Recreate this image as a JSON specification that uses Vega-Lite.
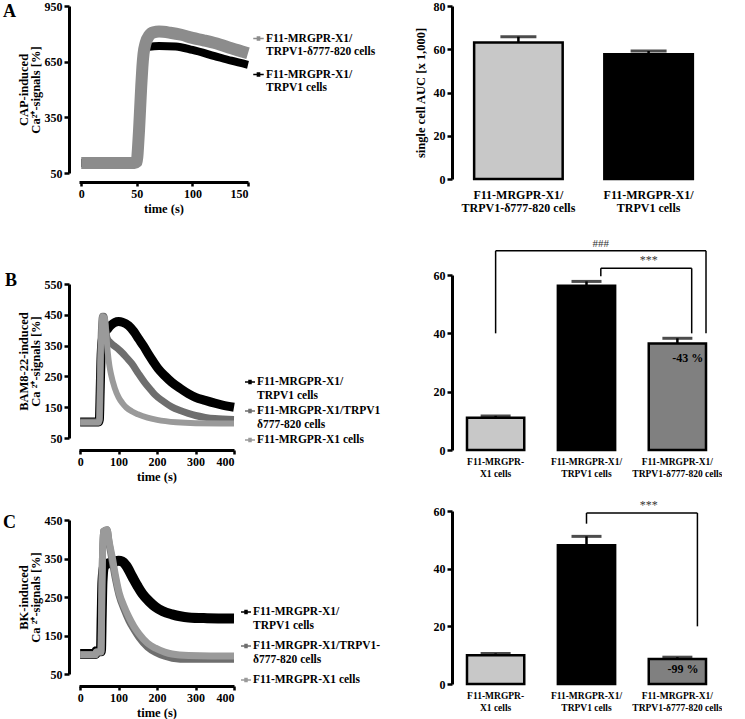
{
  "$schema": "https://vega.github.io/schema/vega-lite/v6.json",
  "padding": {"left": 3, "top": 0, "right": 0, "bottom": 0},
  "background": "white",
  "config": {
    "font": "Liberation Serif",
    "view": {"stroke": null},
    "axis": {"labelFont": "Liberation Serif", "labelFontWeight": "bold", "labelFontSize": 12, "labelColor": "#000", "titleFont": "Liberation Serif", "titleFontWeight": "bold", "titleFontSize": 12.5, "titleColor": "#000", "titleLineHeight": 12, "domainColor": "#000", "domainWidth": 3, "tickColor": "#000", "tickWidth": 2.5, "tickSize": 5, "grid": false, "labelPadding": 2},
    "legend": {"labelFont": "Liberation Serif", "labelFontWeight": "bold", "labelFontSize": 11.5, "labelColor": "#000", "symbolStrokeWidth": 1.5},
    "line": {"interpolate": "monotone", "strokeCap": "butt", "strokeJoin": "round"},
    "title": {"font": "Liberation Serif", "fontWeight": "bold", "fontSize": 18, "color": "#000"}
  },
  "datasets": {
    "tsA": [
      {"s": "F11-MRGPR-X1/|TRPV1 cells", "t": 0, "v": 104}, {"s": "F11-MRGPR-X1/|TRPV1 cells", "t": 48, "v": 104}, {"s": "F11-MRGPR-X1/|TRPV1 cells", "t": 50, "v": 110}, {"s": "F11-MRGPR-X1/|TRPV1 cells", "t": 52, "v": 280}, {"s": "F11-MRGPR-X1/|TRPV1 cells", "t": 54, "v": 500}, {"s": "F11-MRGPR-X1/|TRPV1 cells", "t": 56, "v": 660}, {"s": "F11-MRGPR-X1/|TRPV1 cells", "t": 58, "v": 718}, {"s": "F11-MRGPR-X1/|TRPV1 cells", "t": 61, "v": 730}, {"s": "F11-MRGPR-X1/|TRPV1 cells", "t": 70, "v": 735}, {"s": "F11-MRGPR-X1/|TRPV1 cells", "t": 85, "v": 732}, {"s": "F11-MRGPR-X1/|TRPV1 cells", "t": 100, "v": 713}, {"s": "F11-MRGPR-X1/|TRPV1 cells", "t": 120, "v": 680}, {"s": "F11-MRGPR-X1/|TRPV1 cells", "t": 135, "v": 655}, {"s": "F11-MRGPR-X1/|TRPV1 cells", "t": 150, "v": 633},
      {"s": "F11-MRGPR-X1/|TRPV1-δ777-820 cells", "t": 0, "v": 104}, {"s": "F11-MRGPR-X1/|TRPV1-δ777-820 cells", "t": 48, "v": 104}, {"s": "F11-MRGPR-X1/|TRPV1-δ777-820 cells", "t": 50, "v": 110}, {"s": "F11-MRGPR-X1/|TRPV1-δ777-820 cells", "t": 51, "v": 180}, {"s": "F11-MRGPR-X1/|TRPV1-δ777-820 cells", "t": 52, "v": 280}, {"s": "F11-MRGPR-X1/|TRPV1-δ777-820 cells", "t": 53, "v": 400}, {"s": "F11-MRGPR-X1/|TRPV1-δ777-820 cells", "t": 54, "v": 520}, {"s": "F11-MRGPR-X1/|TRPV1-δ777-820 cells", "t": 55, "v": 620}, {"s": "F11-MRGPR-X1/|TRPV1-δ777-820 cells", "t": 56, "v": 690}, {"s": "F11-MRGPR-X1/|TRPV1-δ777-820 cells", "t": 58, "v": 752}, {"s": "F11-MRGPR-X1/|TRPV1-δ777-820 cells", "t": 61, "v": 790}, {"s": "F11-MRGPR-X1/|TRPV1-δ777-820 cells", "t": 65, "v": 808}, {"s": "F11-MRGPR-X1/|TRPV1-δ777-820 cells", "t": 70, "v": 812}, {"s": "F11-MRGPR-X1/|TRPV1-δ777-820 cells", "t": 80, "v": 806}, {"s": "F11-MRGPR-X1/|TRPV1-δ777-820 cells", "t": 90, "v": 795}, {"s": "F11-MRGPR-X1/|TRPV1-δ777-820 cells", "t": 100, "v": 778}, {"s": "F11-MRGPR-X1/|TRPV1-δ777-820 cells", "t": 110, "v": 765}, {"s": "F11-MRGPR-X1/|TRPV1-δ777-820 cells", "t": 121, "v": 749}, {"s": "F11-MRGPR-X1/|TRPV1-δ777-820 cells", "t": 135, "v": 722}, {"s": "F11-MRGPR-X1/|TRPV1-δ777-820 cells", "t": 150, "v": 695}
    ],
    "tsB": [
      {"s": "F11-MRGPR-X1/|TRPV1 cells", "t": 0, "v": 102}, {"s": "F11-MRGPR-X1/|TRPV1 cells", "t": 48, "v": 102}, {"s": "F11-MRGPR-X1/|TRPV1 cells", "t": 50, "v": 110}, {"s": "F11-MRGPR-X1/|TRPV1 cells", "t": 52, "v": 200}, {"s": "F11-MRGPR-X1/|TRPV1 cells", "t": 54, "v": 300}, {"s": "F11-MRGPR-X1/|TRPV1 cells", "t": 57, "v": 365}, {"s": "F11-MRGPR-X1/|TRPV1 cells", "t": 62, "v": 390}, {"s": "F11-MRGPR-X1/|TRPV1 cells", "t": 70, "v": 402}, {"s": "F11-MRGPR-X1/|TRPV1 cells", "t": 80, "v": 416}, {"s": "F11-MRGPR-X1/|TRPV1 cells", "t": 90, "v": 425}, {"s": "F11-MRGPR-X1/|TRPV1 cells", "t": 100, "v": 428}, {"s": "F11-MRGPR-X1/|TRPV1 cells", "t": 110, "v": 426}, {"s": "F11-MRGPR-X1/|TRPV1 cells", "t": 126, "v": 415}, {"s": "F11-MRGPR-X1/|TRPV1 cells", "t": 140, "v": 395}, {"s": "F11-MRGPR-X1/|TRPV1 cells", "t": 152, "v": 372}, {"s": "F11-MRGPR-X1/|TRPV1 cells", "t": 165, "v": 348}, {"s": "F11-MRGPR-X1/|TRPV1 cells", "t": 177, "v": 323}, {"s": "F11-MRGPR-X1/|TRPV1 cells", "t": 190, "v": 298}, {"s": "F11-MRGPR-X1/|TRPV1 cells", "t": 203, "v": 275}, {"s": "F11-MRGPR-X1/|TRPV1 cells", "t": 220, "v": 252}, {"s": "F11-MRGPR-X1/|TRPV1 cells", "t": 238, "v": 231}, {"s": "F11-MRGPR-X1/|TRPV1 cells", "t": 260, "v": 211}, {"s": "F11-MRGPR-X1/|TRPV1 cells", "t": 281, "v": 194}, {"s": "F11-MRGPR-X1/|TRPV1 cells", "t": 300, "v": 182}, {"s": "F11-MRGPR-X1/|TRPV1 cells", "t": 325, "v": 172}, {"s": "F11-MRGPR-X1/|TRPV1 cells", "t": 350, "v": 163}, {"s": "F11-MRGPR-X1/|TRPV1 cells", "t": 370, "v": 157}, {"s": "F11-MRGPR-X1/|TRPV1 cells", "t": 400, "v": 150},
      {"s": "F11-MRGPR-X1/TRPV1|δ777-820 cells", "t": 0, "v": 102}, {"s": "F11-MRGPR-X1/TRPV1|δ777-820 cells", "t": 48, "v": 102}, {"s": "F11-MRGPR-X1/TRPV1|δ777-820 cells", "t": 50, "v": 110}, {"s": "F11-MRGPR-X1/TRPV1|δ777-820 cells", "t": 53, "v": 300}, {"s": "F11-MRGPR-X1/TRPV1|δ777-820 cells", "t": 56, "v": 420}, {"s": "F11-MRGPR-X1/TRPV1|δ777-820 cells", "t": 58, "v": 445}, {"s": "F11-MRGPR-X1/TRPV1|δ777-820 cells", "t": 62, "v": 445}, {"s": "F11-MRGPR-X1/TRPV1|δ777-820 cells", "t": 66, "v": 405}, {"s": "F11-MRGPR-X1/TRPV1|δ777-820 cells", "t": 70, "v": 375}, {"s": "F11-MRGPR-X1/TRPV1|δ777-820 cells", "t": 80, "v": 358}, {"s": "F11-MRGPR-X1/TRPV1|δ777-820 cells", "t": 90, "v": 348}, {"s": "F11-MRGPR-X1/TRPV1|δ777-820 cells", "t": 100, "v": 338}, {"s": "F11-MRGPR-X1/TRPV1|δ777-820 cells", "t": 110, "v": 326}, {"s": "F11-MRGPR-X1/TRPV1|δ777-820 cells", "t": 120, "v": 312}, {"s": "F11-MRGPR-X1/TRPV1|δ777-820 cells", "t": 134, "v": 292}, {"s": "F11-MRGPR-X1/TRPV1|δ777-820 cells", "t": 150, "v": 262}, {"s": "F11-MRGPR-X1/TRPV1|δ777-820 cells", "t": 169, "v": 228}, {"s": "F11-MRGPR-X1/TRPV1|δ777-820 cells", "t": 185, "v": 204}, {"s": "F11-MRGPR-X1/TRPV1|δ777-820 cells", "t": 195, "v": 190}, {"s": "F11-MRGPR-X1/TRPV1|δ777-820 cells", "t": 215, "v": 170}, {"s": "F11-MRGPR-X1/TRPV1|δ777-820 cells", "t": 238, "v": 151}, {"s": "F11-MRGPR-X1/TRPV1|δ777-820 cells", "t": 260, "v": 139}, {"s": "F11-MRGPR-X1/TRPV1|δ777-820 cells", "t": 281, "v": 130}, {"s": "F11-MRGPR-X1/TRPV1|δ777-820 cells", "t": 300, "v": 123}, {"s": "F11-MRGPR-X1/TRPV1|δ777-820 cells", "t": 325, "v": 117}, {"s": "F11-MRGPR-X1/TRPV1|δ777-820 cells", "t": 350, "v": 113}, {"s": "F11-MRGPR-X1/TRPV1|δ777-820 cells", "t": 400, "v": 110},
      {"s": "F11-MRGPR-X1 cells", "t": 0, "v": 100}, {"s": "F11-MRGPR-X1 cells", "t": 48, "v": 100}, {"s": "F11-MRGPR-X1 cells", "t": 50, "v": 110}, {"s": "F11-MRGPR-X1 cells", "t": 53, "v": 300}, {"s": "F11-MRGPR-X1 cells", "t": 56, "v": 420}, {"s": "F11-MRGPR-X1 cells", "t": 58, "v": 445}, {"s": "F11-MRGPR-X1 cells", "t": 64, "v": 440}, {"s": "F11-MRGPR-X1 cells", "t": 68, "v": 385}, {"s": "F11-MRGPR-X1 cells", "t": 72, "v": 325}, {"s": "F11-MRGPR-X1 cells", "t": 76, "v": 285}, {"s": "F11-MRGPR-X1 cells", "t": 80, "v": 258}, {"s": "F11-MRGPR-X1 cells", "t": 90, "v": 212}, {"s": "F11-MRGPR-X1 cells", "t": 100, "v": 182}, {"s": "F11-MRGPR-X1 cells", "t": 110, "v": 163}, {"s": "F11-MRGPR-X1 cells", "t": 120, "v": 149}, {"s": "F11-MRGPR-X1 cells", "t": 135, "v": 136}, {"s": "F11-MRGPR-X1 cells", "t": 150, "v": 127}, {"s": "F11-MRGPR-X1 cells", "t": 175, "v": 116}, {"s": "F11-MRGPR-X1 cells", "t": 200, "v": 109}, {"s": "F11-MRGPR-X1 cells", "t": 250, "v": 101}, {"s": "F11-MRGPR-X1 cells", "t": 300, "v": 98}, {"s": "F11-MRGPR-X1 cells", "t": 400, "v": 97}
    ],
    "tsC": [
      {"s": "F11-MRGPR-X1/|TRPV1 cells", "t": 0, "v": 102}, {"s": "F11-MRGPR-X1/|TRPV1 cells", "t": 40, "v": 102}, {"s": "F11-MRGPR-X1/|TRPV1 cells", "t": 42, "v": 109}, {"s": "F11-MRGPR-X1/|TRPV1 cells", "t": 54, "v": 109}, {"s": "F11-MRGPR-X1/|TRPV1 cells", "t": 56, "v": 200}, {"s": "F11-MRGPR-X1/|TRPV1 cells", "t": 58, "v": 290}, {"s": "F11-MRGPR-X1/|TRPV1 cells", "t": 62, "v": 328}, {"s": "F11-MRGPR-X1/|TRPV1 cells", "t": 70, "v": 336}, {"s": "F11-MRGPR-X1/|TRPV1 cells", "t": 85, "v": 340}, {"s": "F11-MRGPR-X1/|TRPV1 cells", "t": 100, "v": 344}, {"s": "F11-MRGPR-X1/|TRPV1 cells", "t": 110, "v": 342}, {"s": "F11-MRGPR-X1/|TRPV1 cells", "t": 120, "v": 331}, {"s": "F11-MRGPR-X1/|TRPV1 cells", "t": 136, "v": 302}, {"s": "F11-MRGPR-X1/|TRPV1 cells", "t": 150, "v": 277}, {"s": "F11-MRGPR-X1/|TRPV1 cells", "t": 162, "v": 258}, {"s": "F11-MRGPR-X1/|TRPV1 cells", "t": 180, "v": 238}, {"s": "F11-MRGPR-X1/|TRPV1 cells", "t": 196, "v": 224}, {"s": "F11-MRGPR-X1/|TRPV1 cells", "t": 215, "v": 213}, {"s": "F11-MRGPR-X1/|TRPV1 cells", "t": 239, "v": 205}, {"s": "F11-MRGPR-X1/|TRPV1 cells", "t": 260, "v": 200}, {"s": "F11-MRGPR-X1/|TRPV1 cells", "t": 282, "v": 197}, {"s": "F11-MRGPR-X1/|TRPV1 cells", "t": 330, "v": 195}, {"s": "F11-MRGPR-X1/|TRPV1 cells", "t": 400, "v": 194},
      {"s": "F11-MRGPR-X1/TRPV1-|δ777-820 cells", "t": 0, "v": 100}, {"s": "F11-MRGPR-X1/TRPV1-|δ777-820 cells", "t": 40, "v": 100}, {"s": "F11-MRGPR-X1/TRPV1-|δ777-820 cells", "t": 42, "v": 107}, {"s": "F11-MRGPR-X1/TRPV1-|δ777-820 cells", "t": 54, "v": 107}, {"s": "F11-MRGPR-X1/TRPV1-|δ777-820 cells", "t": 57, "v": 300}, {"s": "F11-MRGPR-X1/TRPV1-|δ777-820 cells", "t": 60, "v": 420}, {"s": "F11-MRGPR-X1/TRPV1-|δ777-820 cells", "t": 70, "v": 425}, {"s": "F11-MRGPR-X1/TRPV1-|δ777-820 cells", "t": 75, "v": 392}, {"s": "F11-MRGPR-X1/TRPV1-|δ777-820 cells", "t": 84, "v": 340}, {"s": "F11-MRGPR-X1/TRPV1-|δ777-820 cells", "t": 92, "v": 295}, {"s": "F11-MRGPR-X1/TRPV1-|δ777-820 cells", "t": 101, "v": 255}, {"s": "F11-MRGPR-X1/TRPV1-|δ777-820 cells", "t": 114, "v": 218}, {"s": "F11-MRGPR-X1/TRPV1-|δ777-820 cells", "t": 127, "v": 188}, {"s": "F11-MRGPR-X1/TRPV1-|δ777-820 cells", "t": 140, "v": 165}, {"s": "F11-MRGPR-X1/TRPV1-|δ777-820 cells", "t": 153, "v": 145}, {"s": "F11-MRGPR-X1/TRPV1-|δ777-820 cells", "t": 175, "v": 120}, {"s": "F11-MRGPR-X1/TRPV1-|δ777-820 cells", "t": 196, "v": 106}, {"s": "F11-MRGPR-X1/TRPV1-|δ777-820 cells", "t": 220, "v": 96}, {"s": "F11-MRGPR-X1/TRPV1-|δ777-820 cells", "t": 239, "v": 91}, {"s": "F11-MRGPR-X1/TRPV1-|δ777-820 cells", "t": 282, "v": 88}, {"s": "F11-MRGPR-X1/TRPV1-|δ777-820 cells", "t": 340, "v": 88}, {"s": "F11-MRGPR-X1/TRPV1-|δ777-820 cells", "t": 400, "v": 88},
      {"s": "F11-MRGPR-X1 cells", "t": 0, "v": 100}, {"s": "F11-MRGPR-X1 cells", "t": 40, "v": 100}, {"s": "F11-MRGPR-X1 cells", "t": 42, "v": 107}, {"s": "F11-MRGPR-X1 cells", "t": 54, "v": 107}, {"s": "F11-MRGPR-X1 cells", "t": 57, "v": 300}, {"s": "F11-MRGPR-X1 cells", "t": 60, "v": 420}, {"s": "F11-MRGPR-X1 cells", "t": 70, "v": 425}, {"s": "F11-MRGPR-X1 cells", "t": 75, "v": 396}, {"s": "F11-MRGPR-X1 cells", "t": 84, "v": 350}, {"s": "F11-MRGPR-X1 cells", "t": 92, "v": 305}, {"s": "F11-MRGPR-X1 cells", "t": 101, "v": 262}, {"s": "F11-MRGPR-X1 cells", "t": 114, "v": 226}, {"s": "F11-MRGPR-X1 cells", "t": 127, "v": 197}, {"s": "F11-MRGPR-X1 cells", "t": 140, "v": 173}, {"s": "F11-MRGPR-X1 cells", "t": 153, "v": 154}, {"s": "F11-MRGPR-X1 cells", "t": 175, "v": 130}, {"s": "F11-MRGPR-X1 cells", "t": 196, "v": 117}, {"s": "F11-MRGPR-X1 cells", "t": 220, "v": 107}, {"s": "F11-MRGPR-X1 cells", "t": 239, "v": 102}, {"s": "F11-MRGPR-X1 cells", "t": 282, "v": 98}, {"s": "F11-MRGPR-X1 cells", "t": 340, "v": 97}, {"s": "F11-MRGPR-X1 cells", "t": 400, "v": 97}
    ],
    "barA": [
      {"g": "F11-MRGPR-X1/|TRPV1-δ777-820 cells", "m": 63.1, "hi": 65.8},
      {"g": "F11-MRGPR-X1/|TRPV1 cells", "m": 57.7, "hi": 59.2}
    ],
    "barB": [
      {"g": "F11-MRGPR-|X1 cells", "m": 11.1, "hi": 11.7},
      {"g": "F11-MRGPR-X1/|TRPV1 cells", "m": 56.3, "hi": 57.8},
      {"g": "F11-MRGPR-X1/|TRPV1-δ777-820 cells", "m": 36.5, "hi": 38.3}
    ],
    "barC": [
      {"g": "F11-MRGPR-|X1 cells", "m": 10.0, "hi": 10.6},
      {"g": "F11-MRGPR-X1/|TRPV1 cells", "m": 48.1, "hi": 51.2},
      {"g": "F11-MRGPR-X1/|TRPV1-δ777-820 cells", "m": 8.65, "hi": 9.3}
    ],
    "hashB": [{"a": "F11-MRGPR-|X1 cells", "b": "F11-MRGPR-X1/|TRPV1-δ777-820 cells", "mid": "F11-MRGPR-X1/|TRPV1 cells", "top": 68.3, "lo": 40, "lbl": "###"}],
    "starB": [{"a": "F11-MRGPR-X1/|TRPV1 cells", "b": "F11-MRGPR-X1/|TRPV1-δ777-820 cells", "top": 62.3, "loA": 59.6, "loB": 40, "lbl": "***"}],
    "starC": [{"a": "F11-MRGPR-X1/|TRPV1 cells", "b": "F11-MRGPR-X1/|TRPV1-δ777-820 cells", "top": 59.3, "loA": 55.6, "loB": 20, "lbl": "***"}],
    "pctB": [{"g": "F11-MRGPR-X1/|TRPV1-δ777-820 cells", "y": 31.7, "txt": "-43 %"}],
    "pctC": [{"g": "F11-MRGPR-X1/|TRPV1-δ777-820 cells", "y": 5.1, "txt": "-99 %"}]
  },
  "resolve": {"scale": {"color": "independent", "fill": "independent"}, "legend": {"color": "independent", "fill": "independent"}},
  "hconcat": [
    {
      "spacing": 57,
      "resolve": {"scale": {"color": "independent", "fill": "independent"}, "legend": {"color": "independent", "fill": "independent"}},
      "vconcat": [
        {
          "width": 169, "height": 167,
          "title": {"text": "A", "orient": "left", "anchor": "end", "angle": 0, "baseline": "middle", "align": "right", "offset": -12, "dy": 12},
          "data": {"name": "tsA"},
          "encoding": {
            "x": {"field": "t", "type": "quantitative", "scale": {"domain": [-2, 150], "nice": false, "zero": false}, "axis": {"values": [0, 50, 100, 150], "title": "time (s)", "offset": 9, "tickSize": 4, "titlePadding": 3}},
            "y": {"field": "v", "type": "quantitative", "scale": {"domain": [50, 950], "nice": false, "zero": false}, "axis": {"values": [50, 350, 650, 950], "title": ["CAP-induced", "Ca²⁺-signals [%]"], "offset": 10, "titlePadding": 2}},
            "color": {"field": "s", "type": "nominal", "scale": {"domain": ["F11-MRGPR-X1/|TRPV1-δ777-820 cells", "F11-MRGPR-X1/|TRPV1 cells"], "range": ["#8c8c8c", "#000000"]},
              "legend": {"orient": "none", "legendX": 173, "legendY": 26, "title": null, "direction": "vertical", "symbolType": "M-1,0H1M-0.35,-0.3H0.35M-0.35,-0.15H0.35M-0.35,0H0.35M-0.35,0.15H0.35M-0.35,0.3H0.35", "symbolSize": 110, "symbolStrokeWidth": 1.6, "labelExpr": "split(datum.label, '|')", "labelOffset": 1, "rowPadding": 10, "labelLimit": 300,
                "encode": {"symbols": {"update": {"strokeWidth": {"value": 1.6}}}}}}
          },
          "layer": [
            {"transform": [{"filter": "datum.s === 'F11-MRGPR-X1/|TRPV1 cells'"}], "mark": {"type": "line", "strokeWidth": 8}},
            {"transform": [{"filter": "datum.s === 'F11-MRGPR-X1/|TRPV1-δ777-820 cells'"}], "mark": {"type": "line", "strokeWidth": 12}}
          ]
        },
        {
          "spacing": 31,
          "resolve": {"scale": {"color": "independent", "fill": "independent"}, "legend": {"color": "independent", "fill": "independent"}},
          "vconcat": [
            {
              "width": 155, "height": 154,
              "title": {"text": "B", "orient": "left", "anchor": "end", "angle": 0, "baseline": "middle", "align": "right", "offset": -12, "dy": 3},
              "data": {"name": "tsB"},
              "encoding": {
                "x": {"field": "t", "type": "quantitative", "scale": {"domain": [-3, 400], "nice": false, "zero": false}, "axis": {"values": [0, 100, 200, 300, 400], "title": "time (s)", "offset": 12, "tickSize": 4, "titlePadding": 3}},
                "y": {"field": "v", "type": "quantitative", "scale": {"domain": [50, 550], "nice": false, "zero": false}, "axis": {"values": [50, 150, 250, 350, 450, 550], "title": ["BAM8-22-induced", "Ca ²⁺-signals [%]"], "offset": 10, "titlePadding": 2}},
                "color": {"field": "s", "type": "nominal", "scale": {"domain": ["F11-MRGPR-X1/|TRPV1 cells", "F11-MRGPR-X1/TRPV1|δ777-820 cells", "F11-MRGPR-X1 cells"], "range": ["#000000", "#6e6e6e", "#9a9a9a"]},
                  "legend": {"orient": "none", "legendX": 165, "legendY": 92, "title": null, "direction": "vertical", "symbolType": "M-1,0H1M-0.35,-0.3H0.35M-0.35,-0.15H0.35M-0.35,0H0.35M-0.35,0.15H0.35M-0.35,0.3H0.35", "symbolSize": 100, "symbolStrokeWidth": 1.5, "labelExpr": "split(datum.label, '|')", "labelOffset": 1, "rowPadding": 4, "labelLimit": 300,
                    "encode": {"symbols": {"update": {"strokeWidth": {"value": 1.5}}}}}}
              },
              "layer": [
                {"transform": [{"filter": "datum.s === 'F11-MRGPR-X1/|TRPV1 cells'"}], "mark": {"type": "line", "strokeWidth": 9}},
                {"transform": [{"filter": "datum.s === 'F11-MRGPR-X1/TRPV1|δ777-820 cells'"}], "mark": {"type": "line", "strokeWidth": 7}},
                {"transform": [{"filter": "datum.s === 'F11-MRGPR-X1 cells'"}], "mark": {"type": "line", "strokeWidth": 6}}
              ]
            },
            {
              "width": 155, "height": 154,
              "title": {"text": "C", "orient": "left", "anchor": "end", "angle": 0, "baseline": "middle", "align": "right", "offset": -12, "dy": 9},
              "data": {"name": "tsC"},
              "encoding": {
                "x": {"field": "t", "type": "quantitative", "scale": {"domain": [-3, 400], "nice": false, "zero": false}, "axis": {"values": [0, 100, 200, 300, 400], "title": "time (s)", "offset": 12, "tickSize": 4, "titlePadding": 3}},
                "y": {"field": "v", "type": "quantitative", "scale": {"domain": [50, 450], "nice": false, "zero": false}, "axis": {"values": [50, 150, 250, 350, 450], "title": ["BK-induced", "Ca ²⁺-signals [%]"], "offset": 10, "titlePadding": 2}},
                "color": {"field": "s", "type": "nominal", "scale": {"domain": ["F11-MRGPR-X1/|TRPV1 cells", "F11-MRGPR-X1/TRPV1-|δ777-820 cells", "F11-MRGPR-X1 cells"], "range": ["#000000", "#6e6e6e", "#9a9a9a"]},
                  "legend": {"orient": "none", "legendX": 161, "legendY": 86, "title": null, "direction": "vertical", "symbolType": "M-1,0H1M-0.35,-0.3H0.35M-0.35,-0.15H0.35M-0.35,0H0.35M-0.35,0.15H0.35M-0.35,0.3H0.35", "symbolSize": 100, "symbolStrokeWidth": 1.5, "labelExpr": "split(datum.label, '|')", "labelOffset": 1, "rowPadding": 9, "labelLimit": 300,
                    "encode": {"symbols": {"update": {"strokeWidth": {"value": 1.5}}}}}}
              },
              "layer": [
                {"transform": [{"filter": "datum.s === 'F11-MRGPR-X1/|TRPV1 cells'"}], "mark": {"type": "line", "strokeWidth": 10}},
                {"transform": [{"filter": "datum.s === 'F11-MRGPR-X1/TRPV1-|δ777-820 cells'"}], "mark": {"type": "line", "strokeWidth": 7}},
                {"transform": [{"filter": "datum.s === 'F11-MRGPR-X1 cells'"}], "mark": {"type": "line", "strokeWidth": 7}}
              ]
            }
          ]
        }
      ]
    },
    {
      "spacing": 24,
      "resolve": {"scale": {"color": "independent", "fill": "independent"}, "legend": {"color": "independent", "fill": "independent"}},
      "vconcat": [
        {
          "width": 263, "height": 173,
          "data": {"name": "barA"},
          "encoding": {
            "x": {"field": "g", "type": "nominal", "scale": {"domain": ["F11-MRGPR-X1/|TRPV1-δ777-820 cells", "F11-MRGPR-X1/|TRPV1 cells"], "paddingInner": 0.32, "paddingOuter": 0.17}, "axis": {"title": null, "labelAngle": 0, "domain": false, "ticks": false, "labelExpr": "split(datum.label, '|')", "labelFontSize": 12, "labelLineHeight": 13, "labelPadding": 10, "labelBaseline": "top"}}
          },
          "layer": [
            {"mark": {"type": "bar", "stroke": "#000", "strokeWidth": 2.5},
             "encoding": {
               "y": {"field": "m", "type": "quantitative", "scale": {"domain": [0, 80], "nice": false}, "axis": {"values": [0, 20, 40, 60, 80], "title": "single cell AUC [x 1,000]", "titlePadding": 6}},
               "fill": {"field": "g", "type": "nominal", "scale": {"domain": ["F11-MRGPR-X1/|TRPV1-δ777-820 cells", "F11-MRGPR-X1/|TRPV1 cells"], "range": ["#c8c8c8", "#000000"]}, "legend": null}}},
            {"mark": {"type": "rule", "strokeWidth": 2.5, "color": "#000"}, "encoding": {"y": {"field": "m", "type": "quantitative"}, "y2": {"field": "hi"}}},
            {"mark": {"type": "tick", "thickness": 3, "size": 36, "color": "#000"}, "encoding": {"y": {"field": "hi", "type": "quantitative"}}}
          ]
        },
        {
          "spacing": 21,
          "resolve": {"scale": {"color": "independent", "fill": "independent"}, "legend": {"color": "independent", "fill": "independent"}},
          "vconcat": [
            {
              "width": 269, "height": 175,
              "data": {"name": "barB"},
              "encoding": {
                "x": {"field": "g", "type": "nominal", "scale": {"domain": ["F11-MRGPR-|X1 cells", "F11-MRGPR-X1/|TRPV1 cells", "F11-MRGPR-X1/|TRPV1-δ777-820 cells"], "paddingInner": 0.37, "paddingOuter": 0.165}, "axis": {"title": null, "labelAngle": 0, "domain": false, "ticks": false, "labelExpr": "split(datum.label, '|')", "labelFontSize": 9.5, "labelLineHeight": 12.5, "labelPadding": 6, "labelBaseline": "top"}}
              },
              "layer": [
                {"mark": {"type": "bar", "stroke": "#000", "strokeWidth": 2.5},
                 "encoding": {
                   "y": {"field": "m", "type": "quantitative", "scale": {"domain": [0, 60], "nice": false}, "axis": {"values": [0, 10, 20, 30, 40, 50, 60], "title": "single cell AUC [x 1,000]", "titlePadding": 6}},
                   "fill": {"field": "g", "type": "nominal", "scale": {"domain": ["F11-MRGPR-|X1 cells", "F11-MRGPR-X1/|TRPV1 cells", "F11-MRGPR-X1/|TRPV1-δ777-820 cells"], "range": ["#c8c8c8", "#000000", "#808080"]}, "legend": null}}},
                {"mark": {"type": "rule", "strokeWidth": 2.5, "color": "#000"}, "encoding": {"y": {"field": "m", "type": "quantitative"}, "y2": {"field": "hi"}}},
                {"mark": {"type": "tick", "thickness": 3, "size": 30, "color": "#000"}, "encoding": {"y": {"field": "hi", "type": "quantitative"}}},
                {"data": {"name": "pctB"}, "mark": {"type": "text", "fontSize": 12, "fontWeight": "bold", "font": "Liberation Serif", "color": "#000"},
                 "encoding": {"x": {"field": "g", "type": "nominal", "bandPosition": 0.68, "title": null}, "y": {"field": "y", "type": "quantitative", "title": null}, "text": {"field": "txt"}}},
                {"data": {"name": "hashB"}, "mark": {"type": "rule", "strokeWidth": 1.5, "color": "#000"},
                 "encoding": {"x": {"field": "a", "type": "nominal", "bandPosition": 0.5, "title": null}, "y": {"field": "lo", "type": "quantitative", "title": null}, "y2": {"field": "top"}}},
                {"data": {"name": "hashB"}, "mark": {"type": "rule", "strokeWidth": 1.5, "color": "#000"},
                 "encoding": {"x": {"field": "b", "type": "nominal", "bandPosition": 1, "title": null}, "y": {"field": "lo", "type": "quantitative", "title": null}, "y2": {"field": "top"}}},
                {"data": {"name": "hashB"}, "mark": {"type": "rule", "strokeWidth": 1.5, "color": "#000"},
                 "encoding": {"x": {"field": "a", "type": "nominal", "bandPosition": 0.5, "title": null}, "x2": {"field": "b", "bandPosition": 1}, "y": {"field": "top", "type": "quantitative", "title": null}}},
                {"data": {"name": "hashB"}, "mark": {"type": "text", "fontSize": 11, "font": "Liberation Serif", "color": "#333", "baseline": "bottom", "dy": -2},
                 "encoding": {"x": {"field": "mid", "type": "nominal", "bandPosition": 0.75, "title": null}, "y": {"field": "top", "type": "quantitative", "title": null}, "text": {"field": "lbl"}}},
                {"data": {"name": "starB"}, "mark": {"type": "rule", "strokeWidth": 1.5, "color": "#000"},
                 "encoding": {"x": {"field": "a", "type": "nominal", "bandPosition": 0.75, "title": null}, "y": {"field": "loA", "type": "quantitative", "title": null}, "y2": {"field": "top"}}},
                {"data": {"name": "starB"}, "mark": {"type": "rule", "strokeWidth": 1.5, "color": "#000"},
                 "encoding": {"x": {"field": "b", "type": "nominal", "bandPosition": 0.75, "title": null}, "y": {"field": "loB", "type": "quantitative", "title": null}, "y2": {"field": "top"}}},
                {"data": {"name": "starB"}, "mark": {"type": "rule", "strokeWidth": 1.5, "color": "#000"},
                 "encoding": {"x": {"field": "a", "type": "nominal", "bandPosition": 0.75, "title": null}, "x2": {"field": "b", "bandPosition": 0.75}, "y": {"field": "top", "type": "quantitative", "title": null}}},
                {"data": {"name": "starB"}, "mark": {"type": "text", "fontSize": 12, "font": "Liberation Serif", "color": "#333", "baseline": "bottom", "dy": -1},
                 "encoding": {"x": {"field": "b", "type": "nominal", "bandPosition": 0, "title": null}, "y": {"field": "top", "type": "quantitative", "title": null}, "text": {"field": "lbl"}}}
              ]
            },
            {
              "width": 269, "height": 173,
              "data": {"name": "barC"},
              "encoding": {
                "x": {"field": "g", "type": "nominal", "scale": {"domain": ["F11-MRGPR-|X1 cells", "F11-MRGPR-X1/|TRPV1 cells", "F11-MRGPR-X1/|TRPV1-δ777-820 cells"], "paddingInner": 0.37, "paddingOuter": 0.165}, "axis": {"title": null, "labelAngle": 0, "domain": false, "ticks": false, "labelExpr": "split(datum.label, '|')", "labelFontSize": 9.5, "labelLineHeight": 12.5, "labelPadding": 6, "labelBaseline": "top"}}
              },
              "layer": [
                {"mark": {"type": "bar", "stroke": "#000", "strokeWidth": 2.5},
                 "encoding": {
                   "y": {"field": "m", "type": "quantitative", "scale": {"domain": [0, 60], "nice": false}, "axis": {"values": [0, 10, 20, 30, 40, 50, 60], "title": "single cell AUC [x 1,000]", "titlePadding": 6}},
                   "fill": {"field": "g", "type": "nominal", "scale": {"domain": ["F11-MRGPR-|X1 cells", "F11-MRGPR-X1/|TRPV1 cells", "F11-MRGPR-X1/|TRPV1-δ777-820 cells"], "range": ["#c8c8c8", "#000000", "#808080"]}, "legend": null}}},
                {"mark": {"type": "rule", "strokeWidth": 2.5, "color": "#000"}, "encoding": {"y": {"field": "m", "type": "quantitative"}, "y2": {"field": "hi"}}},
                {"mark": {"type": "tick", "thickness": 3, "size": 30, "color": "#000"}, "encoding": {"y": {"field": "hi", "type": "quantitative"}}},
                {"data": {"name": "pctC"}, "mark": {"type": "text", "fontSize": 12, "fontWeight": "bold", "font": "Liberation Serif", "color": "#000"},
                 "encoding": {"x": {"field": "g", "type": "nominal", "bandPosition": 0.6, "title": null}, "y": {"field": "y", "type": "quantitative", "title": null}, "text": {"field": "txt"}}},
                {"data": {"name": "starC"}, "mark": {"type": "rule", "strokeWidth": 1.5, "color": "#000"},
                 "encoding": {"x": {"field": "a", "type": "nominal", "bandPosition": 0.5, "title": null}, "y": {"field": "loA", "type": "quantitative", "title": null}, "y2": {"field": "top"}}},
                {"data": {"name": "starC"}, "mark": {"type": "rule", "strokeWidth": 1.5, "color": "#000"},
                 "encoding": {"x": {"field": "b", "type": "nominal", "bandPosition": 0.85, "title": null}, "y": {"field": "loB", "type": "quantitative", "title": null}, "y2": {"field": "top"}}},
                {"data": {"name": "starC"}, "mark": {"type": "rule", "strokeWidth": 1.5, "color": "#000"},
                 "encoding": {"x": {"field": "a", "type": "nominal", "bandPosition": 0.5, "title": null}, "x2": {"field": "b", "bandPosition": 0.85}, "y": {"field": "top", "type": "quantitative", "title": null}}},
                {"data": {"name": "starC"}, "mark": {"type": "text", "fontSize": 12, "font": "Liberation Serif", "color": "#333", "baseline": "bottom", "dy": -1},
                 "encoding": {"x": {"field": "b", "type": "nominal", "bandPosition": 0, "title": null}, "y": {"field": "top", "type": "quantitative", "title": null}, "text": {"field": "lbl"}}}
              ]
            }
          ]
        }
      ]
    }
  ],
  "spacing": 33
}
